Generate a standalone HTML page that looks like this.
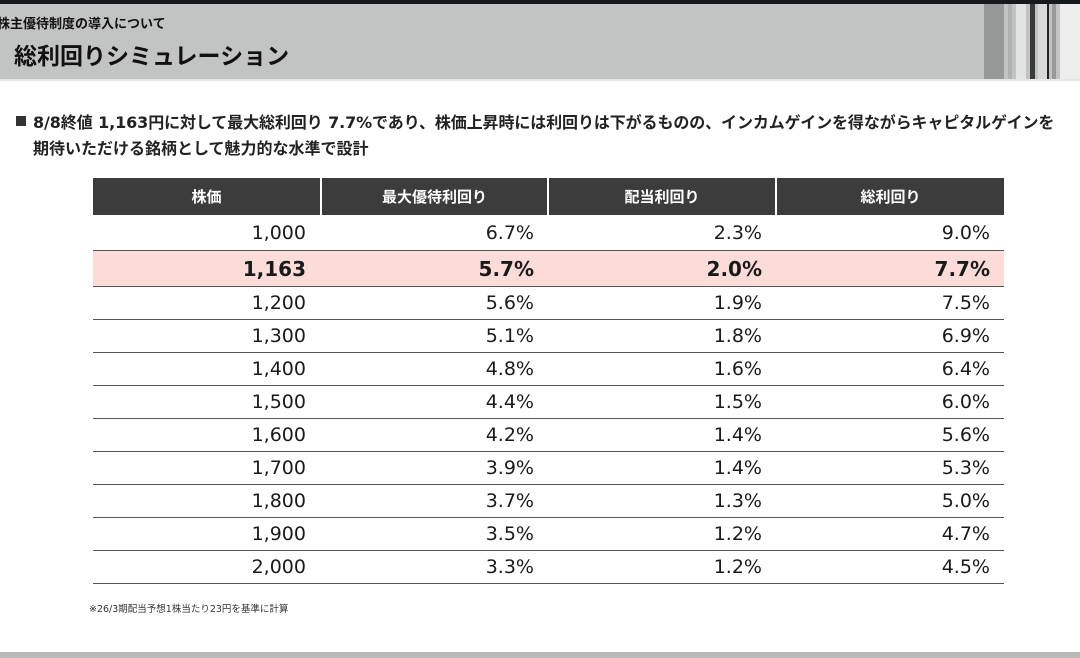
<!DOCTYPE html>
<html><head><meta charset="utf-8"><style>
*{margin:0;padding:0;box-sizing:border-box}
body{width:1080px;height:658px;position:relative;overflow:hidden;background:#fff;font-family:"DejaVu Sans","Noto Sans CJK JP",sans-serif;color:#1a1a1a}
.abs{position:absolute;white-space:nowrap}
.c{position:absolute;text-align:right;font-size:19px;line-height:33px}
.hl .c{font-weight:bold;font-size:20px}
.h{position:absolute;top:178px;height:37px;background:#3c3c3c;color:#fff;font-weight:bold;font-size:15px;line-height:37px;text-align:center;font-family:"Noto Sans CJK JP",sans-serif}
.row{position:absolute;left:93px;width:911px;border-bottom:1.5px solid #555}
</style></head><body>
<div class="abs" style="left:0;top:0;width:1080px;height:4px;background:#15181c"></div>
<div class="abs" style="left:0;top:4px;width:1080px;height:75px;background:#c2c4c3"></div>
<div class="abs" style="left:984px;top:4px;width:20px;height:75px;background:#979998"></div>
<div class="abs" style="left:1008px;top:4px;width:4px;height:75px;background:#b0b2b1"></div>
<div class="abs" style="left:1016px;top:4px;width:10px;height:75px;background:#e2e3e3"></div>
<div class="abs" style="left:1030px;top:4px;width:5px;height:75px;background:#3a3a3a"></div>
<div class="abs" style="left:1038px;top:4px;width:10px;height:75px;background:#d8d9d9"></div>
<div class="abs" style="left:1047px;top:4px;width:2px;height:75px;background:#222"></div>
<div class="abs" style="left:1052px;top:4px;width:4px;height:75px;background:#999"></div>
<div class="abs" style="left:1060px;top:4px;width:20px;height:75px;background:#eeeeee"></div>
<div class="abs" style="left:0;top:79px;width:1080px;height:2px;background:#e6e6e6"></div>
<div class="abs" style="left:-3px;top:13px;font-size:13px;font-weight:bold;color:#111;font-family:'Noto Sans CJK JP',sans-serif">株主優待制度の導入について</div>
<div class="abs" style="left:14px;top:37px;font-size:23px;font-weight:bold;color:#111;font-family:'Noto Sans CJK JP',sans-serif">総利回りシミュレーション</div>
<div class="abs" style="left:16px;top:116px;width:10px;height:10px;background:#333"></div>
<div class="abs" style="left:33px;top:109px;font-size:16px;font-weight:bold;color:#222;letter-spacing:-0.1px">8/8終値 1,163円に対して最大総利回り 7.7%であり、株価上昇時には利回りは下がるものの、インカムゲインを得ながらキャピタルゲインを</div>
<div class="abs" style="left:33px;top:135px;font-size:16px;font-weight:bold;color:#222">期待いただける銘柄として魅力的な水準で設計</div>
<div class="h" style="left:93px;width:227px">株価</div>
<div class="h" style="left:322px;width:225px">最大優待利回り</div>
<div class="h" style="left:549px;width:226px">配当利回り</div>
<div class="h" style="left:777px;width:227px">総利回り</div>
<div class="row" style="top:215px;height:36px"><div class="c" style="left:0;width:213px;top:2px">1,000</div><div class="c" style="left:0;width:441px;top:2px">6.7%</div><div class="c" style="left:0;width:669px;top:2px">2.3%</div><div class="c" style="left:0;width:897px;top:2px">9.0%</div></div>
<div class="row hl" style="top:251px;height:36px;background:#fbdcd9"><div class="c" style="left:0;width:213px;top:2px">1,163</div><div class="c" style="left:0;width:441px;top:2px">5.7%</div><div class="c" style="left:0;width:669px;top:2px">2.0%</div><div class="c" style="left:0;width:897px;top:2px">7.7%</div></div>
<div class="row" style="top:287px;height:33px"><div class="c" style="left:0;width:213px">1,200</div><div class="c" style="left:0;width:441px">5.6%</div><div class="c" style="left:0;width:669px">1.9%</div><div class="c" style="left:0;width:897px">7.5%</div></div>
<div class="row" style="top:320px;height:33px"><div class="c" style="left:0;width:213px">1,300</div><div class="c" style="left:0;width:441px">5.1%</div><div class="c" style="left:0;width:669px">1.8%</div><div class="c" style="left:0;width:897px">6.9%</div></div>
<div class="row" style="top:353px;height:33px"><div class="c" style="left:0;width:213px">1,400</div><div class="c" style="left:0;width:441px">4.8%</div><div class="c" style="left:0;width:669px">1.6%</div><div class="c" style="left:0;width:897px">6.4%</div></div>
<div class="row" style="top:386px;height:33px"><div class="c" style="left:0;width:213px">1,500</div><div class="c" style="left:0;width:441px">4.4%</div><div class="c" style="left:0;width:669px">1.5%</div><div class="c" style="left:0;width:897px">6.0%</div></div>
<div class="row" style="top:419px;height:33px"><div class="c" style="left:0;width:213px">1,600</div><div class="c" style="left:0;width:441px">4.2%</div><div class="c" style="left:0;width:669px">1.4%</div><div class="c" style="left:0;width:897px">5.6%</div></div>
<div class="row" style="top:452px;height:33px"><div class="c" style="left:0;width:213px">1,700</div><div class="c" style="left:0;width:441px">3.9%</div><div class="c" style="left:0;width:669px">1.4%</div><div class="c" style="left:0;width:897px">5.3%</div></div>
<div class="row" style="top:485px;height:33px"><div class="c" style="left:0;width:213px">1,800</div><div class="c" style="left:0;width:441px">3.7%</div><div class="c" style="left:0;width:669px">1.3%</div><div class="c" style="left:0;width:897px">5.0%</div></div>
<div class="row" style="top:518px;height:33px"><div class="c" style="left:0;width:213px">1,900</div><div class="c" style="left:0;width:441px">3.5%</div><div class="c" style="left:0;width:669px">1.2%</div><div class="c" style="left:0;width:897px">4.7%</div></div>
<div class="row" style="top:551px;height:33px"><div class="c" style="left:0;width:213px">2,000</div><div class="c" style="left:0;width:441px">3.3%</div><div class="c" style="left:0;width:669px">1.2%</div><div class="c" style="left:0;width:897px">4.5%</div></div>
<div class="abs" style="left:89px;top:601px;font-size:9.5px;color:#333">※26/3期配当予想1株当たり23円を基準に計算</div>
<div class="abs" style="left:0;top:652px;width:1080px;height:6px;background:#b8b9b9"></div>
</body></html>
